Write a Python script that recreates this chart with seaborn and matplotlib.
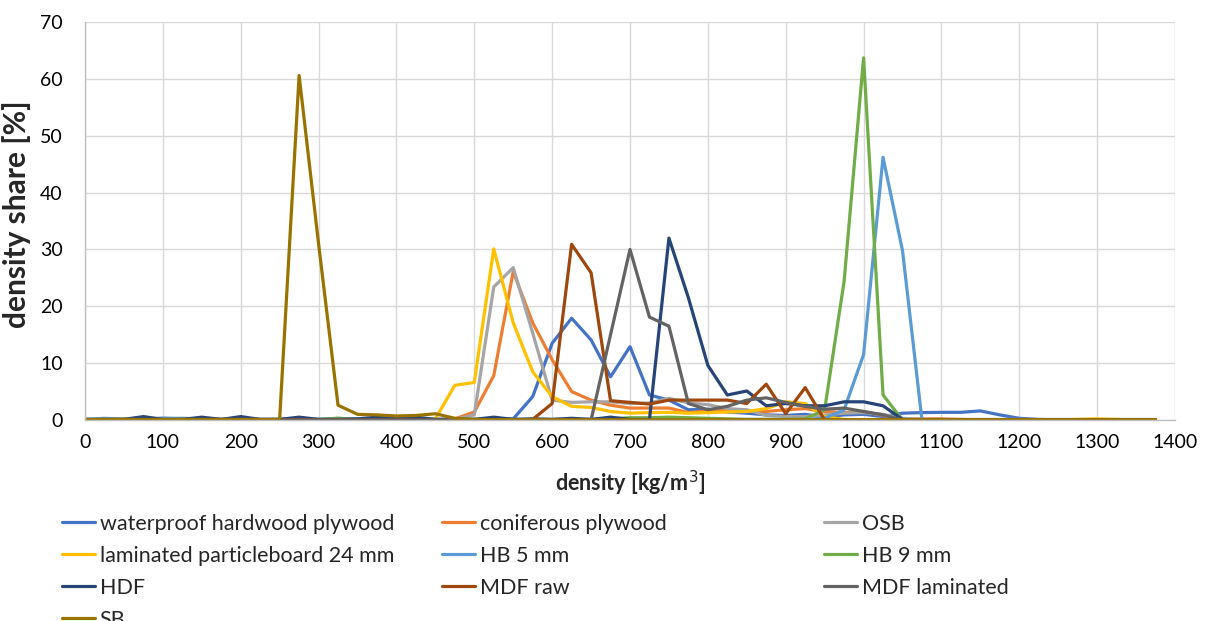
import numpy as np
import pandas as pd
import matplotlib
matplotlib.use("Agg")
import matplotlib.pyplot as plt
import seaborn as sns
from matplotlib.lines import Line2D

density = list(range(0, 1400, 25))

waterproof_hardwood_plywood = [0.1, 0.2, 0.1, 0.2, 0.3, 0.2, 0.2, 0.1, 0.2, 0.1, 0.1, 0.2, 0.1, 0.1,
                               0.1, 0.1, 0.1, 0.1, 0.1, 0.1, 0.1, 0.1, 0.2, 4.1, 13.5, 17.9, 14.1, 7.6,
                               12.9, 4.4, 3.5, 1.8, 1.9, 1.4, 1.2, 0.9, 0.8, 1.0, 0.5, 0.9, 1.0, 0.6,
                               1.2, 1.3, 1.35, 1.35, 1.6, 0.9, 0.3, 0.1, 0.0, 0.0, 0.0, 0.0, 0.0, 0.0]
coniferous_plywood = [0.0, 0.1, 0.1, 0.0, 0.1, 0.1, 0.0, 0.1, 0.1, 0.0, 0.1, 0.1, 0.0, 0.1,
                      0.1, 0.0, 0.1, 0.1, 0.0, 0.2, 1.4, 7.8, 26.1, 17.1, 10.6, 5.0, 3.5, 2.6,
                      2.1, 2.1, 2.1, 1.3, 1.6, 1.8, 1.5, 1.5, 1.8, 2.0, 1.5, 1.3, 1.5, 0.8,
                      0.2, 0.2, 0.2, 0.1, 0.0, 0.0, 0.0, 0.0, 0.0, 0.0, 0.0, 0.0, 0.0, 0.0]
osb = [0.1, 0.1, 0.1, 0.1, 0.1, 0.1, 0.1, 0.1, 0.1, 0.1, 0.1, 0.1, 0.1, 0.1,
       0.1, 0.1, 0.1, 0.1, 0.1, 0.1, 0.9, 23.4, 26.8, 15.3, 3.5, 3.1, 3.2, 3.2,
       2.9, 3.0, 3.8, 3.0, 2.7, 2.0, 1.8, 0.8, 0.6, 0.6, 0.9, 1.2, 1.3, 1.0,
       0.3, 0.1, 0.1, 0.1, 0.1, 0.1, 0.1, 0.1, 0.1, 0.1, 0.1, 0.1, 0.1, 0.1]
laminated_particleboard = [0.0, 0.0, 0.1, 0.0, 0.0, 0.1, 0.0, 0.0, 0.1, 0.0, 0.0, 0.1, 0.0, 0.0,
                           0.1, 0.0, 0.0, 0.1, 0.2, 6.1, 6.6, 30.1, 17.1, 8.5, 4.1, 2.4, 2.2, 1.5,
                           1.2, 1.3, 1.35, 1.2, 1.3, 1.4, 1.5, 2.0, 3.2, 2.9, 0.6, 0.1, 0.0, 0.0,
                           0.0, 0.0, 0.0, 0.0, 0.0, 0.0, 0.0, 0.0, 0.0, 0.1, 0.2, 0.1, 0.0, 0.0]
hb_5mm = [0.1, 0.3, 0.1, 0.1, 0.3, 0.3, 0.2, 0.1, 0.2, 0.1, 0.1, 0.1, 0.1, 0.3,
          0.1, 0.1, 0.1, 0.1, 0.1, 0.1, 0.1, 0.1, 0.1, 0.1, 0.1, 0.1, 0.1, 0.1,
          0.1, 0.1, 0.1, 0.1, 0.1, 0.1, 0.1, 0.1, 0.1, 0.1, 0.3, 1.8, 11.5, 46.2,
          29.8, 0.0, 0.0, 0.0, 0.0, 0.0, 0.0, 0.0, 0.0, 0.0, 0.0, 0.0, 0.0, 0.0]
hb_9mm = [0.0, 0.1, 0.1, 0.0, 0.1, 0.1, 0.0, 0.1, 0.1, 0.0, 0.1, 0.1, 0.1, 0.3,
          0.1, 0.3, 0.1, 0.1, 0.1, 0.1, 0.1, 0.1, 0.1, 0.1, 0.1, 0.1, 0.1, 0.2,
          0.4, 0.4, 0.5, 0.4, 0.3, 0.2, 0.1, 0.1, 0.1, 0.2, 1.8, 24.4, 63.7, 4.4,
          0.0, 0.0, 0.0, 0.0, 0.0, 0.0, 0.0, 0.0, 0.0, 0.0, 0.0, 0.0, 0.0, 0.0]
hdf = [0.0, 0.1, 0.1, 0.6, 0.1, 0.1, 0.5, 0.1, 0.6, 0.1, 0.1, 0.5, 0.1, 0.1,
       0.2, 0.5, 0.2, 0.5, 0.1, 0.1, 0.1, 0.5, 0.1, 0.2, 0.1, 0.3, 0.1, 0.5,
       0.1, 0.1, 32.0, 21.5, 9.6, 4.4, 5.1, 2.5, 2.9, 2.5, 2.5, 3.2, 3.2, 2.5,
       0.1, 0.0, 0.0, 0.0, 0.0, 0.0, 0.0, 0.0, 0.0, 0.0, 0.0, 0.0, 0.0, 0.0]
mdf_raw = [0.0, 0.0, 0.1, 0.0, 0.0, 0.1, 0.0, 0.0, 0.1, 0.0, 0.0, 0.1, 0.0, 0.0,
           0.0, 0.0, 0.0, 0.0, 0.0, 0.0, 0.0, 0.0, 0.0, 0.1, 2.9, 30.9, 25.9, 3.4,
           3.1, 2.8, 3.5, 3.5, 3.5, 3.5, 2.9, 6.3, 1.1, 5.7, 0.0, 0.0, 0.0, 0.0,
           0.0, 0.0, 0.0, 0.0, 0.0, 0.0, 0.0, 0.0, 0.0, 0.0, 0.0, 0.0, 0.0, 0.0]
mdf_laminated = [0.0, 0.0, 0.0, 0.0, 0.0, 0.0, 0.0, 0.0, 0.0, 0.0, 0.0, 0.0, 0.0, 0.0,
                 0.0, 0.0, 0.0, 0.0, 0.0, 0.0, 0.0, 0.0, 0.0, 0.0, 0.0, 0.0, 0.0, 15.0,
                 30.0, 18.1, 16.5, 2.9, 1.8, 2.4, 3.5, 3.9, 3.1, 2.4, 1.9, 2.1, 1.5, 0.9,
                 0.0, 0.0, 0.0, 0.0, 0.0, 0.0, 0.0, 0.0, 0.0, 0.0, 0.0, 0.0, 0.0, 0.0]
sb = [0.1, 0.1, 0.1, 0.1, 0.1, 0.1, 0.1, 0.1, 0.1, 0.1, 0.1, 60.6, 31.0, 2.6,
      1.0, 0.9, 0.7, 0.8, 1.1, 0.3, 0.1, 0.05, 0.05, 0.05, 0.05, 0.05, 0.05, 0.05,
      0.05, 0.05, 0.05, 0.05, 0.05, 0.05, 0.05, 0.05, 0.05, 0.05, 0.05, 0.05, 0.05, 0.05,
      0.05, 0.05, 0.05, 0.05, 0.05, 0.05, 0.05, 0.05, 0.05, 0.05, 0.05, 0.05, 0.05, 0.05]

series_names = ["waterproof hardwood plywood", "coniferous plywood", "OSB",
                "laminated particleboard 24 mm", "HB 5 mm", "HB 9 mm",
                "HDF", "MDF raw", "MDF laminated", "SB"]
series_values = [waterproof_hardwood_plywood, coniferous_plywood, osb,
                 laminated_particleboard, hb_5mm, hb_9mm,
                 hdf, mdf_raw, mdf_laminated, sb]
colors = ["#4472C4", "#ED7D31", "#A5A5A5", "#FFC000", "#5B9BD5", "#70AD47",
          "#264478", "#9E480E", "#636363", "#997300"]

x_ticks = list(range(0, 1401, 100))
y_ticks = list(range(0, 71, 10))

rows = []
for name, vals in zip(series_names, series_values):
    for d, v in zip(density, vals):
        rows.append({"density": d, "share": v, "material": name})
df = pd.DataFrame(rows)

sns.set_theme(style="white")
plt.rcParams['font.family'] = ['Lato', 'DejaVu Sans']

fig = plt.figure(figsize=(12.07, 6.21), dpi=100)
ax = fig.add_axes([85/1207, 1 - 420/621, (1175-85)/1207, (420-22)/621])

sns.lineplot(data=df, x="density", y="share", hue="material",
             hue_order=series_names, palette=dict(zip(series_names, colors)),
             linewidth=2.3, errorbar=None, sort=False, legend=False, ax=ax)

ax.set_xlim(0, 1400)
ax.set_ylim(0, 70)
ax.set_xticks(x_ticks)
ax.set_yticks(y_ticks)
ax.grid(True, color="#D9D9D9", linewidth=1.0)
ax.set_axisbelow(True)
for s in ["top", "right"]:
    ax.spines[s].set_visible(False)
for s in ["left", "bottom"]:
    ax.spines[s].set_color("#BFBFBF")
    ax.spines[s].set_linewidth(1.0)
ax.tick_params(axis="both", labelsize=14, length=0, colors="#000000")
ax.tick_params(axis="x", pad=10)
ax.tick_params(axis="y", pad=16)
ax.set_xlabel("density [kg/m$^3$]", fontsize=15.5, fontweight="bold", labelpad=13)
ax.set_ylabel("density share [%]", fontsize=21.5, fontweight="bold")
ax.yaxis.set_label_coords(-0.0495, 0.5176)

handles = [Line2D([0], [0], color=c, linewidth=2.3) for c in colors]
col_groups = [[0, 3, 6, 9], [1, 4, 7], [2, 5, 8]]
col_x = [62, 442, 824]
for grp, cx in zip(col_groups, col_x):
    fig.legend([handles[i] for i in grp], [series_names[i] for i in grp],
               loc="upper left", bbox_to_anchor=(cx/1207, 1 - 514/621),
               frameon=False, fontsize=15.5, handlelength=1.55,
               handletextpad=0.2, labelspacing=0.55, borderaxespad=0,
               borderpad=0)

fig.savefig("out.png", dpi=100)
